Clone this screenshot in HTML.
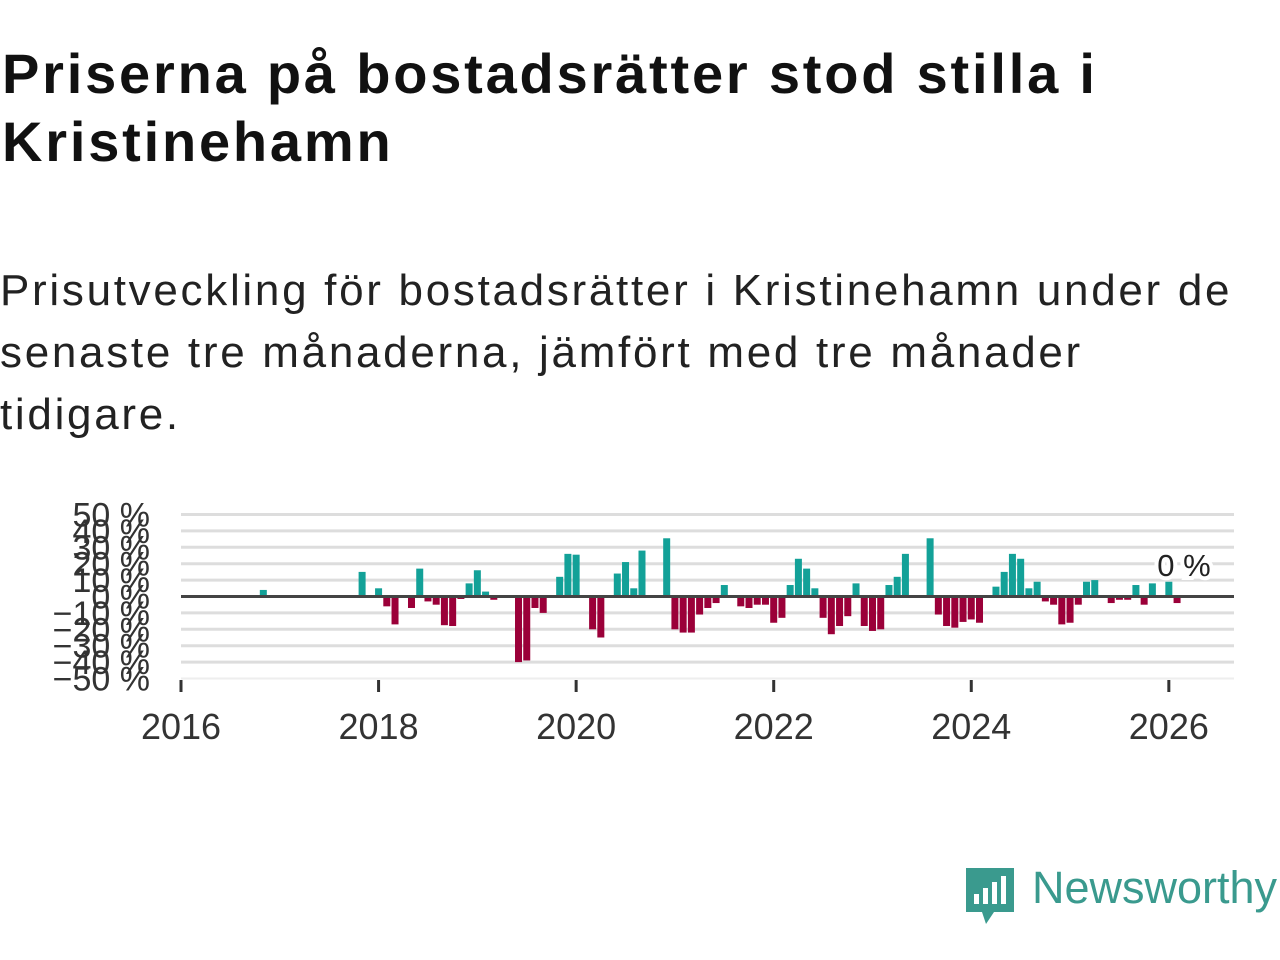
<!DOCTYPE html>
<html><head><meta charset="utf-8"><style>
body{margin:0;width:1280px;height:960px;background:#fff;overflow:hidden;font-family:"Liberation Sans",sans-serif;color:#111;position:relative}
h1{position:absolute;left:2px;top:40px;margin:0;font-size:56px;letter-spacing:2.8px;line-height:68px;font-weight:bold;width:1280px;white-space:nowrap}
p{position:absolute;left:0;top:260px;margin:0;font-size:44px;letter-spacing:2.7px;line-height:62px;width:1280px;color:#222;white-space:nowrap}
svg{position:absolute;left:0;top:0}
</style></head><body>
<h1>Priserna på bostadsrätter stod stilla i<br>Kristinehamn</h1>
<p>Prisutveckling för bostadsrätter i Kristinehamn under de<br>senaste tre månaderna, jämfört med tre månader<br>tidigare.</p>
<svg id="chart" width="1280" height="960"></svg>
<script>
const months=[10,22,24,25,26,28,29,30,31,32,33,34,35,36,37,38,41,42,43,44,46,47,48,50,51,53,54,55,56,59,60,61,62,63,64,65,66,68,69,70,71,72,73,74,75,76,77,78,79,80,81,82,83,84,85,86,87,88,91,92,93,94,95,96,97,99,100,101,102,103,104,105,106,107,108,109,110,111,113,114,115,116,117,118,120,121];
const values=[4,15,5,-6,-17,-7,17,-3,-5,-17.5,-18,-1.5,8,16,3,-2,-40,-39,-7,-10,12,26,25.5,-20,-25,14,21,5,28,35.5,-20,-22,-22,-11,-7,-4,7,-6,-7,-5,-5,-16,-13,7,23,17,5,-13,-23,-18,-12,8,-18,-21,-20,7,12,26,35.5,-11,-18,-19,-15.5,-14,-16,6,15,26,23,5,9,-3,-5,-17,-16,-5,9,10,-4,-2,-2,7,-5,8,9,-4];
const yTicks=[50,40,30,20,10,0,-10,-20,-30,-40,-50];
const xYears=[2016,2018,2020,2022,2024,2026];
const NS='http://www.w3.org/2000/svg';
const svg=document.getElementById('chart');
const x0=181,pxMonth=8.232,y0=596.5,pxPct=1.64;
const xs=m=>x0+m*pxMonth;
const ys=v=>y0-v*pxPct;
function mk(t,a){const e=document.createElementNS(NS,t);for(const k in a)e.setAttribute(k,a[k]);svg.appendChild(e);return e;}
yTicks.forEach(v=>{
  if(v!==0&&v!==-50){const g=mk('line',{x1:181,x2:1234,y1:ys(v),y2:ys(v),stroke:'#ddd','stroke-width':3});
  
  }
  const t=mk('text',{x:150,y:ys(v)+12,'text-anchor':'end','font-size':34,fill:'#333','font-family':'Liberation Sans, sans-serif'});
  t.textContent=(v<0?'−'+(-v):v)+' %';
  
  
});
const ax=mk('line',{x1:181,x2:1234,y1:ys(-50),y2:ys(-50),stroke:'#eee','stroke-width':2});


months.forEach((m,i)=>{
  const v=values[i];
  const r=mk('rect',{x:xs(m)-3.5,width:7,y:Math.min(ys(v),y0),height:Math.abs(ys(v)-y0),fill:v>=0?'#13a198':'#9b0039'});
  
  
});
const zl=mk('line',{x1:181,x2:1234,y1:y0,y2:y0,stroke:'#444','stroke-width':3});


xYears.forEach(y=>{
  const x=xs((y-2016)*12);
  const tk=mk('line',{x1:x,x2:x,y1:680,y2:692,stroke:'#333','stroke-width':3});
  
  
  const t=mk('text',{x:x,y:739,'text-anchor':'middle','font-size':36,fill:'#333','font-family':'Liberation Sans, sans-serif'});
  t.textContent=y;
  
  
});
const lbl=mk('text',{x:1184,y:576,'text-anchor':'middle','font-size':31,fill:'#222',stroke:'#fff','stroke-width':8,'paint-order':'stroke','font-family':'Liberation Sans, sans-serif'});
lbl.textContent='0 %';


</script>
<svg width="60" height="62" style="left:964px;top:866px">
<path d="M2 2h48v44H30l-8 12-4-12H2z" fill="#3a9a8e"/>
<rect x="10" y="28" width="5" height="10" fill="#fff"/><rect x="19" y="22" width="5" height="16" fill="#fff"/><rect x="28" y="16" width="5" height="22" fill="#fff"/><rect x="37" y="10" width="5" height="28" fill="#fff"/>
</svg>
<div style="position:absolute;left:1032px;top:862px;font-size:45px;color:#3a9a8e">Newsworthy</div>
</body></html>
